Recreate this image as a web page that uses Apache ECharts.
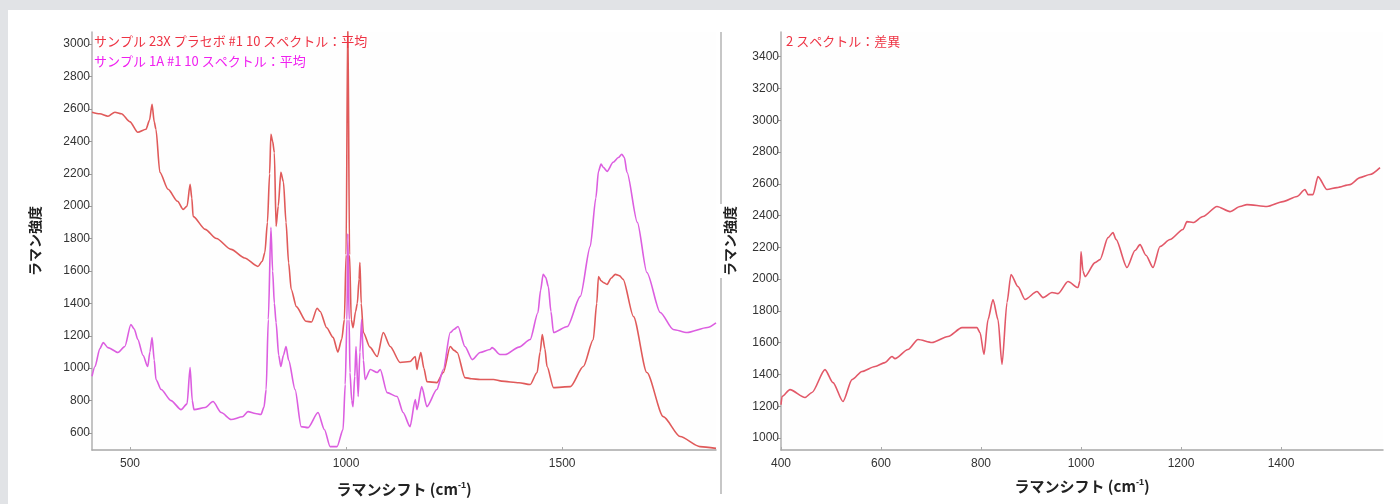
<!DOCTYPE html>
<html>
<head>
<meta charset="utf-8">
<script src="https://cdn.jsdelivr.net/npm/echarts@6/dist/echarts.min.js"></script>
<style>
  html, body { margin: 0; padding: 0; background: #e1e3e6; }
  #panel { position: absolute; left: 8px; top: 10px; width: 1392px; height: 494px; background: #ffffff; }
  #chart { position: absolute; left: 0; top: 0; width: 1400px; height: 504px; }
</style>
</head>
<body>
<div id="panel"></div>
<div id="chart"></div>
<script>
// Placebo sample 23X: averaged spectrum (Raman shift cm-1, intensity)
const placeboShift = [412,430,449,465,480,500,518,537,545,551,556,560,569,588,610,623,632,639,643,646,674,700,734,765,796,806,812,818,823,826,830,834,838,843,849,855,861,867,873,885,907,920,933,940,955,970,981,990,996,1000,1004,1008,1012,1016,1022,1026,1030,1032,1035,1040,1055,1072,1086,1102,1125,1148,1160,1164,1168,1173,1180,1187,1210,1225,1241,1250,1257,1275,1290,1310,1341,1360,1400,1426,1442,1449,1454,1460,1465,1480,1519,1549,1572,1580,1584,1590,1595,1604,1613,1623,1633,1641,1665,1696,1734,1773,1819,1856];
const placeboIntensity = [2580,2570,2555,2580,2570,2520,2456,2475,2530,2629,2520,2475,2209,2104,2030,1980,2000,2135,2050,1937,1857,1800,1733,1680,1628,1660,1714,1900,2200,2444,2400,2330,1875,2000,2209,2150,1900,1650,1486,1380,1290,1285,1370,1350,1250,1190,1100,1180,1300,1700,3200,1700,1300,1250,1350,1400,1550,1652,1400,1220,1130,1072,1220,1134,1035,1041,1072,992,1050,1097,1000,917,911,973,1134,1110,1097,942,935,930,930,920,910,899,973,1100,1208,1120,1010,880,886,1010,1177,1400,1566,1540,1529,1517,1555,1579,1570,1548,1319,973,701,578,516,505];

// Sample 1A: averaged spectrum
const sampleShift = [412,419,430,438,449,472,488,502,510,518,530,541,546,551,556,560,572,595,618,632,639,644,648,674,692,711,734,760,773,790,803,810,815,820,826,830,834,838,844,849,855,861,867,882,896,912,935,950,963,979,993,998,1002,1004,1007,1009,1013,1016,1020,1023,1028,1032,1036,1040,1044,1056,1072,1079,1095,1118,1132,1148,1160,1164,1175,1187,1210,1225,1241,1250,1259,1275,1292,1310,1333,1338,1356,1368,1400,1426,1444,1450,1456,1462,1468,1474,1480,1512,1542,1565,1578,1584,1590,1595,1604,1618,1630,1638,1644,1650,1674,1696,1727,1757,1789,1836,1856];
const sampleIntensity = [950,1010,1120,1158,1127,1097,1134,1270,1240,1177,1080,1010,1100,1189,1050,930,868,800,744,780,1004,800,744,757,794,726,683,700,732,720,714,760,868,1300,1869,1600,1400,1282,1080,1010,1080,1134,1050,868,639,633,726,620,516,516,621,900,1300,1830,1300,973,800,763,950,1134,825,1100,1300,1050,930,992,973,992,849,825,726,639,806,744,886,763,868,992,1220,1240,1257,1134,1053,1097,1115,1127,1084,1084,1130,1177,1344,1480,1579,1560,1504,1350,1220,1257,1443,1752,2050,2215,2260,2240,2215,2271,2300,2320,2300,2209,1900,1591,1344,1239,1220,1251,1280];

// Difference of the two spectra
const diffShift = [400,402,418,448,462,488,504,524,542,562,588,608,622,628,654,674,702,734,762,792,798,806,814,824,834,842,852,860,874,888,912,924,942,954,974,994,998,1000,1004,1008,1028,1038,1054,1064,1070,1092,1108,1118,1130,1144,1158,1178,1204,1212,1224,1244,1272,1298,1318,1332,1372,1404,1432,1448,1454,1464,1474,1492,1512,1538,1558,1578,1598];
const diffIntensity = [1210,1261,1305,1255,1287,1431,1349,1230,1368,1419,1450,1475,1513,1500,1557,1620,1601,1639,1695,1695,1664,1526,1746,1872,1746,1463,1853,2029,1953,1872,1922,1884,1916,1909,1985,1947,1990,2173,2050,2016,2104,2123,2261,2293,2250,2073,2180,2217,2150,2073,2205,2249,2312,2362,2356,2394,2457,2425,2457,2469,2457,2488,2520,2564,2532,2532,2645,2564,2576,2595,2639,2658,2702];

// Tick labels
const leftXTicks = [500, 1000, 1500];
const leftYTicks = [600, 800, 1000, 1200, 1400, 1600, 1800, 2000, 2200, 2400, 2600, 2800, 3000];
const rightXTicks = [400, 600, 800, 1000, 1200, 1400];
const rightYTicks = [1000, 1200, 1400, 1600, 1800, 2000, 2200, 2400, 2600, 2800, 3000, 3200, 3400];

// Text
const placeboLabel = 'サンプル 23X プラセボ #1 10 スペクトル：平均';
const sampleLabel = 'サンプル 1A #1 10 スペクトル：平均';
const diffLabel = '2 スペクトル：差異';
const yTitle = 'ラマン強度';
const xTitleMain = 'ラマンシフト (cm';

const zip = (xs, ys) => xs.map((x, i) => [x, ys[i]]);

const JP = '"Noto Sans CJK JP", "Noto Sans", sans-serif';
const NUM = '"Liberation Sans Narrow", "Liberation Sans", Arial, sans-serif';
const plain = v => String(v);

function xAxisCfg(gridIndex, min, max, ticks, gap) {
  return {
    type: 'value', gridIndex, min, max,
    name: '{a|' + xTitleMain + '}{s|-1}{a|)}',
    nameLocation: 'middle', nameGap: gap,
    nameTextStyle: {
      rich: {
        a: { fontFamily: JP, fontSize: 15, fontWeight: 'bold', color: '#222' },
        s: { fontFamily: NUM, fontSize: 9, fontWeight: 'bold', color: '#222', verticalAlign: 'top', padding: [0, 0, 8, 0] }
      }
    },
    axisLine: { show: true, lineStyle: { color: '#a8a8a8', width: 1.5 } },
    axisTick: { show: true, length: 3, inside: true, customValues: ticks, lineStyle: { color: '#aaa' } },
    axisLabel: { customValues: ticks, formatter: plain, color: '#333', fontFamily: NUM, fontSize: 12, margin: 8 },
    splitLine: { show: false }
  };
}

function yAxisCfg(gridIndex, min, max, ticks, gap, bg) {
  return {
    type: 'value', gridIndex, min, max,
    name: yTitle, nameLocation: 'middle', nameGap: gap, nameRotate: 90,
    nameTextStyle: { fontFamily: JP, fontSize: 14, fontWeight: 'bold', color: '#222', backgroundColor: bg, padding: [4, 2, 4, 2] },
    axisLine: { show: true, lineStyle: { color: '#b0b0b0', width: 1.5 } },
    axisTick: { show: true, length: 3, customValues: ticks, lineStyle: { color: '#999' } },
    axisLabel: { customValues: ticks, formatter: plain, color: '#333', fontFamily: NUM, fontSize: 12, margin: 2 },
    splitLine: { show: false }
  };
}

const chart = echarts.init(document.getElementById('chart'), null, { renderer: 'canvas' });

chart.setOption({
  animation: false,
  backgroundColor: 'transparent',
  grid: [
    { left: 92, top: 32, width: 624, height: 418, backgroundColor: '#fefefe', show: true, borderWidth: 0 },
    { left: 781, top: 32, width: 602, height: 418, backgroundColor: '#fefefe', show: true, borderWidth: 0 }
  ],
  graphic: [
    { type: 'line', z: -5, shape: { x1: 721, y1: 32, x2: 721, y2: 494 }, style: { stroke: '#b5b5b5', lineWidth: 1.5 } }
  ],
  title: [
    { text: placeboLabel, left: 94, top: 35, padding: 0, textStyle: { fontFamily: JP, fontSize: 13, fontWeight: 'normal', color: '#ee3344' } },
    { text: sampleLabel, left: 94, top: 55, padding: 0, textStyle: { fontFamily: JP, fontSize: 13, fontWeight: 'normal', color: '#f020f0' } },
    { text: diffLabel, left: 786, top: 35, padding: 0, textStyle: { fontFamily: JP, fontSize: 13, fontWeight: 'normal', color: '#ee3344' } }
  ],
  xAxis: [
    xAxisCfg(0, 412, 1856, leftXTicks, 31),
    xAxisCfg(1, 400, 1604, rightXTicks, 28)
  ],
  yAxis: [
    yAxisCfg(0, 495, 3075, leftYTicks, 46, 'transparent'),
    yAxisCfg(1, 925, 3555, rightYTicks, 40, '#ffffff')
  ],
  series: [
    {
      name: placeboLabel, type: 'line', xAxisIndex: 0, yAxisIndex: 0,
      data: zip(placeboShift, placeboIntensity), showSymbol: false, clip: true,
      smooth: 0.25, smoothMonotone: 'x',
      lineStyle: { color: '#e05a5a', width: 1.6 }
    },
    {
      name: sampleLabel, type: 'line', xAxisIndex: 0, yAxisIndex: 0,
      data: zip(sampleShift, sampleIntensity), showSymbol: false, clip: true,
      smooth: 0.25, smoothMonotone: 'x',
      lineStyle: { color: '#dc5ee0', width: 1.6 }
    },
    {
      name: diffLabel, type: 'line', xAxisIndex: 1, yAxisIndex: 1,
      data: zip(diffShift, diffIntensity), showSymbol: false, clip: true,
      smooth: 0.25, smoothMonotone: 'x',
      lineStyle: { color: '#e25868', width: 1.6 }
    }
  ]
});
</script>
</body>
</html>
